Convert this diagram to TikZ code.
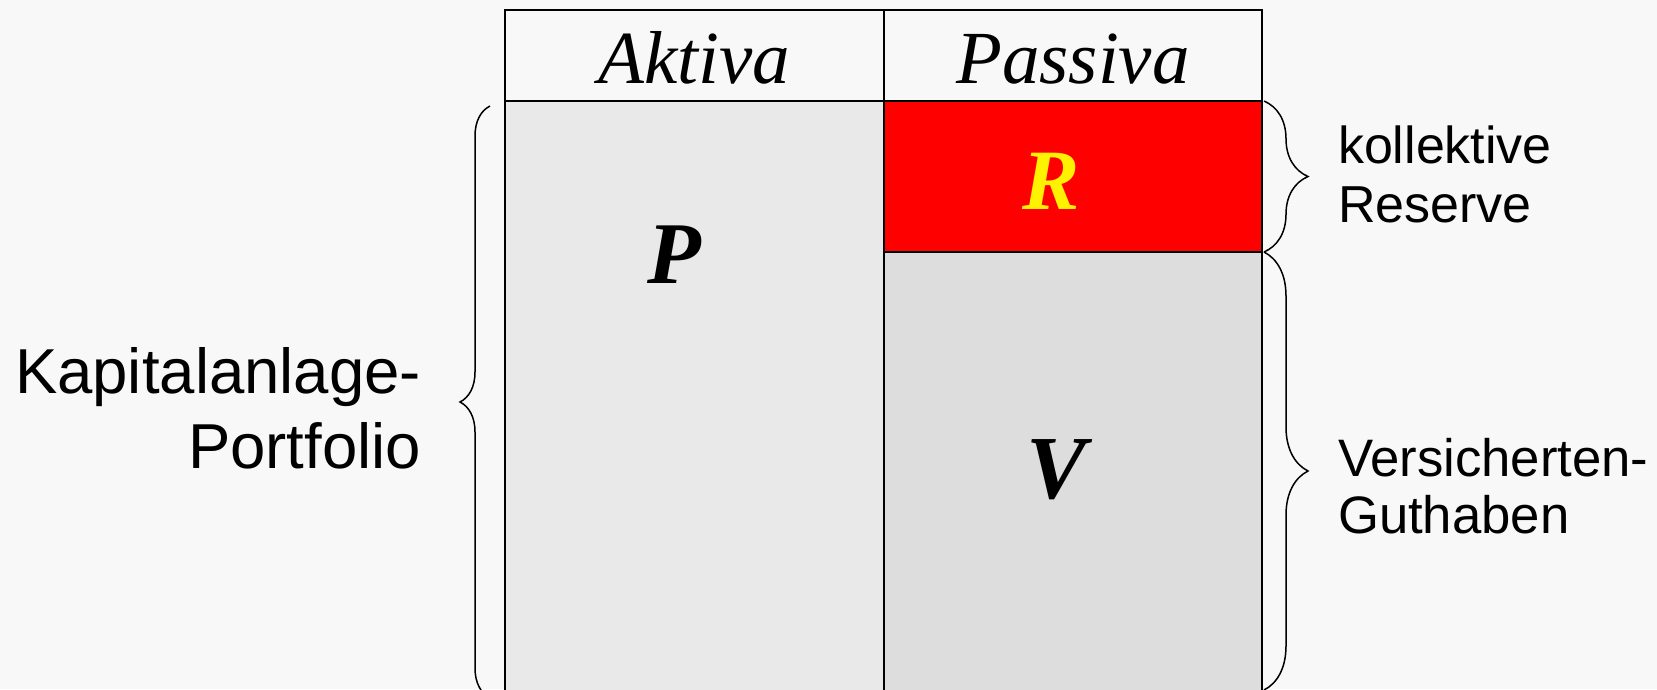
\documentclass[tikz,border=0pt]{standalone}
\usepackage{fontspec}
\setmainfont{Liberation Serif}
\newfontfamily\arialfont{Liberation Sans}
\usetikzlibrary{decorations.pathreplacing}
\definecolor{bgcol}{HTML}{F8F8F8}
\definecolor{aktivcol}{HTML}{E9E9E9}
\definecolor{vcol}{HTML}{DDDDDD}
\tikzset{
	brace/.style={decorate, decoration={brace, amplitude=#1}, line width=1.5pt},
	sidetext/.style={inner sep=0pt},
}

\begin{document}
\begin{tikzpicture}[x=1pt, y=-1pt, line width=2pt]
			\fill[bgcol] (0,0) rectangle (1657,689);
			\useasboundingbox (0,0) rectangle (1657,689);
			\clip (0,0) rectangle (1657,689);
			\filldraw[fill=aktivcol] (505, 101) rectangle (884, 720);
			\filldraw[fill=red] (884, 101) rectangle (1262, 252);
			\filldraw[fill=vcol] (884, 252) rectangle (1262, 720);
			\draw (505, 10) rectangle (1262, 101);
			\draw (884, 10) -- (884, 101);
			\node[anchor=base, inner sep=0pt] (aktiva) at (694, 83)
				{\fontsize{75}{75}\selectfont\itshape Aktiva};
			\node[anchor=base, inner sep=0pt] (passiva) at (1073, 83)
				{\fontsize{75}{75}\selectfont\itshape Passiva};
			\node[anchor=base, inner sep=0pt] (p) at (674, 283)
				{\fontsize{88}{88}\selectfont\bfseries\itshape P};
			\node[anchor=base, inner sep=0pt, text=yellow] (r) at (1051, 209)
				{\fontsize{86}{86}\selectfont\bfseries\itshape R};
			\node[anchor=base, inner sep=0pt] (v) at (1057, 498)
				{\fontsize{90}{90}\selectfont\bfseries\itshape V};
			\coordinate (kaptop) at (490, 106);
			\coordinate (kapbot) at (490, 698);
			\coordinate (restop) at (1264, 101);
			\coordinate (resbot) at (1264, 252);
			\coordinate (vbot) at (1264, 690);
			\draw[brace=30] (kapbot) -- (kaptop);
			\draw[brace=44] (restop) -- (resbot);
			\draw[brace=44] (resbot) -- (vbot);
			\node[sidetext, anchor=base east, align=right,
				font=\arialfont\fontsize{63.5}{75}\selectfont] (kapital) at (422, 468)
				{Kapitalanlage-\\Portfolio};
			\node[sidetext, anchor=base west, align=left,
				font=\arialfont\fontsize{52}{59}\selectfont] (reserve) at (1337, 222)
				{kollektive\\Reserve};
			\node[sidetext, anchor=base west, align=left,
				font=\arialfont\fontsize{52.7}{57}\selectfont] (guthaben) at (1337, 533)
				{Versicherten-\\Guthaben};
		\end{tikzpicture}
\end{document}
